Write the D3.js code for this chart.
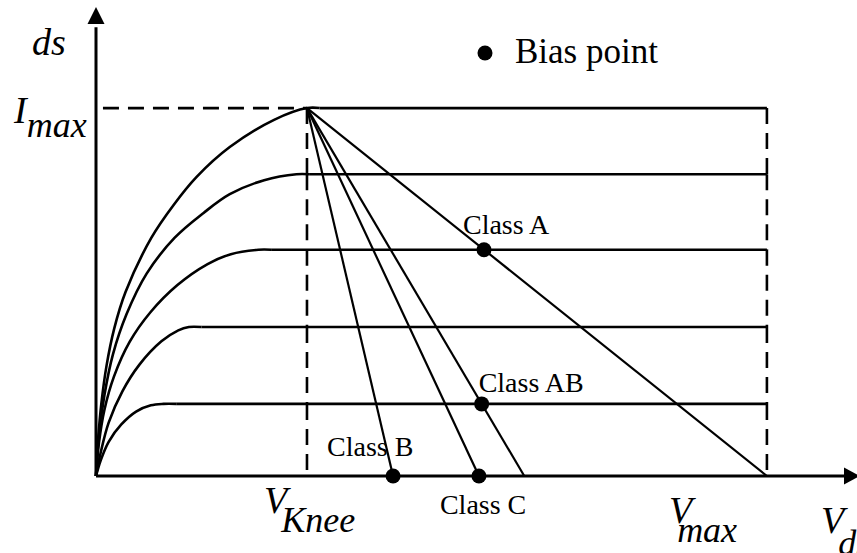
<!DOCTYPE html>
<html>
<head>
<meta charset="utf-8">
<script src="https://cdn.jsdelivr.net/npm/d3@7"></script>
<style>
  body { margin: 0; background: #fff; }
  svg { display: block; }
  text { font-family: "Liberation Serif", "Times New Roman", "DejaVu Serif", serif; fill: #000; }
  .sym { font-style: italic; }
</style>
</head>
<body>
<svg id="chart" width="857" height="553"></svg>
<script>
// Output characteristics I_ds(V_ds) with the load lines of the PA classes.
// Units: V_ds relative (V_knee = 10), I_ds in percent of I_max.
const vKnee = 10;
const vMax = 31.8;
const iMax = 100;

// Flat (saturation) level of each gate-bias curve
const curveLevels = [100, 82, 61.5, 40.5, 19.6];

// Rising (ohmic) part of each curve, from the origin up to its knee
const curve1 = [[0,0],[0.10,10],[0.26,20],[0.50,30],[0.86,40],[1.40,50],[2.62,64.7],[3.67,73.6],[4.77,81.3],[6.34,89.4],[8.44,96.8],[10,100]];
const curve2 = [[0,0],[0.14,11],[0.40,22],[0.80,33],[1.45,44],[2.40,55],[3.72,64.7],[5.10,71.5],[6.34,76.6],[7.97,80.4],[9.5,82]];
const curve3 = [[0,0],[0.14,9],[0.40,18],[0.85,27],[1.60,36.5],[2.58,44.5],[3.86,51.9],[5.29,57.6],[6.39,60.3],[7.7,61.5]];
const curve4 = [[0,0],[0.22,6.3],[0.60,14.5],[1.25,23],[2.05,30.2],[3.10,36.6],[3.90,39.6],[4.4,40.5]];
const curve5 = [[0,0],[0.22,4.2],[0.60,9.3],[1.20,14.0],[1.90,17.5],[2.60,19.2],[3.2,19.6]];
const rising = [curve1, curve2, curve3, curve4, curve5];

// Load lines all start at (V_knee, I_max) and end on the V_ds axis
const loadLineEnds = [31.8, 20.3, 18.15, 14.08];

// Bias points on the load lines
const biasLabels = ["Class A", "Class AB", "Class C", "Class B"];
const biasV = [18.39, 18.28, 18.15, 14.08];
const biasI = [61.5, 19.6, 0, 0];

// ---- layout ----
const svg = d3.select("#chart");
const x = d3.scaleLinear().domain([0, 36.07]).range([96, 857]);
const y = d3.scaleLinear().domain([0, 127.2]).range([476, 8]);

const dash = "16,9";
const line = d3.line().x(d => x(d[0])).y(d => y(d[1]));
const smooth = d3.line().x(d => x(d[0])).y(d => y(d[1])).curve(d3.curveCatmullRom.alpha(0.5));

// Characteristic curves: smooth rising part, then flat out to V_max
rising.forEach((pts, k) => {
  const knee = pts[pts.length - 1];
  const bend = pts.concat([[knee[0] + 0.6, curveLevels[k]]]);
  const g = svg.append("g").attr("fill", "none").attr("stroke", "#000").attr("stroke-width", 2.6);
  g.append("path").attr("d", smooth(bend));
  g.append("path").attr("d", line([[knee[0] + 0.6, curveLevels[k]], [vMax, curveLevels[k]]]));
});

// I_max dashed guide
svg.append("path")
  .attr("d", line([[0.33, iMax], [vKnee, iMax]]))
  .attr("fill", "none").attr("stroke", "#000")
  .attr("stroke-width", 2.6).attr("stroke-dasharray", dash);

// Vertical dashed guides at V_knee and V_max, dashed between successive levels
const levelsDown = curveLevels.concat([0]);
[vKnee, vMax].forEach(v => {
  for (let k = 0; k < levelsDown.length - 1; k++) {
    svg.append("path")
      .attr("d", line([[v, levelsDown[k]], [v, levelsDown[k + 1]]]))
      .attr("fill", "none").attr("stroke", "#000")
      .attr("stroke-width", 2.6).attr("stroke-dasharray", dash);
  }
});

// Load lines
loadLineEnds.forEach(v => {
  svg.append("path")
    .attr("d", line([[vKnee, iMax], [v, 0]]))
    .attr("fill", "none").attr("stroke", "#000")
    .attr("stroke-width", 2.2);
});

// Axes with arrowheads
svg.append("path")
  .attr("d", line([[0, 0], [0, 122]]))
  .attr("stroke", "#000").attr("stroke-width", 3);
svg.append("path")
  .attr("d", line([[0, 0], [35.5, 0]]))
  .attr("stroke", "#000").attr("stroke-width", 3);
const ax0 = x(0), ay0 = y(0), yTop = y(127.2), xEnd = x(36.07);
svg.append("path")
  .attr("d", `M${ax0},${yTop - 1} L${ax0 - 8.5},${yTop + 16} L${ax0 + 8.5},${yTop + 16} Z`)
  .attr("fill", "#000");
svg.append("path")
  .attr("d", `M${xEnd + 3},${ay0} L${xEnd - 13},${ay0 - 8.5} L${xEnd - 13},${ay0 + 8.5} Z`)
  .attr("fill", "#000");

// Bias points
biasV.forEach((v, k) => {
  svg.append("circle")
    .attr("cx", x(v)).attr("cy", y(biasI[k]))
    .attr("r", 7.5).attr("fill", "#000");
});

// Bias point labels
const labelOffsets = [[-21, -16], [-3, -12], [-39, 38], [-66, -20]];
biasLabels.forEach((t, k) => {
  svg.append("text")
    .attr("x", x(biasV[k]) + labelOffsets[k][0])
    .attr("y", y(biasI[k]) + labelOffsets[k][1])
    .attr("font-size", 28)
    .text(t);
});

// Legend
svg.append("circle").attr("cx", 485).attr("cy", 53).attr("r", 7.5).attr("fill", "#000");
svg.append("text")
  .attr("x", 515).attr("y", 63)
  .attr("font-size", 35)
  .text("Bias point");

// Axis and guide symbols (italic, subscript as a lowered tspan)
function symbol(main, sub, mx, my, subDx, subDy) {
  const t = svg.append("text").attr("class", "sym")
    .attr("x", mx).attr("y", my).attr("font-size", 38);
  t.append("tspan").text(main);
  if (sub) {
    t.append("tspan").attr("dx", subDx).attr("dy", subDy)
      .attr("font-size", 36).text(sub);
  }
}
symbol("ds", null, 32, 55);
symbol("I", "max", 14, y(iMax) + 15, 0, 14);
symbol("V", "Knee", x(vKnee) - 43, 513, -6, 19);
symbol("V", "max", x(vMax) - 98, 523, -15, 19);
symbol("V", "ds", 821, 533, -6, 22);
</script>
</body>
</html>
